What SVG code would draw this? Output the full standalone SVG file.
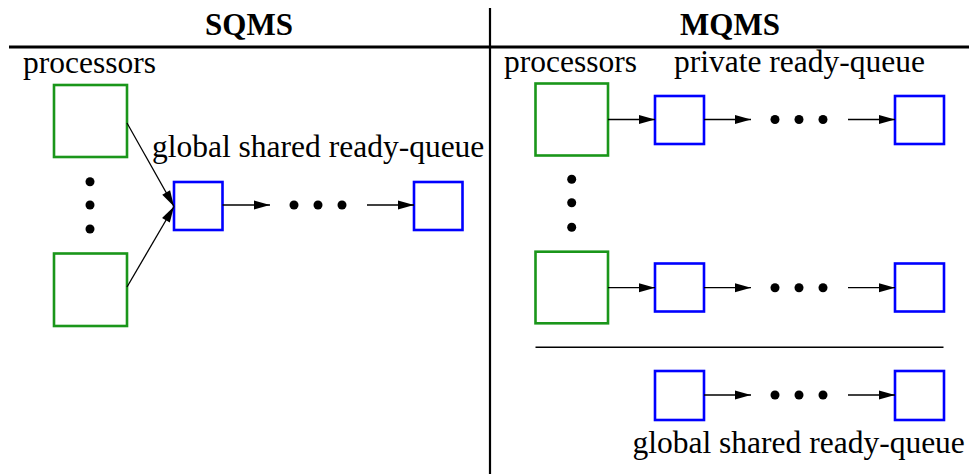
<svg xmlns="http://www.w3.org/2000/svg" width="969" height="474" viewBox="0 0 969 474">
  <style>
    .title { font-family: "Liberation Serif", "Times New Roman", serif; font-weight: bold; font-size: 31px; text-anchor: middle; fill: #000; }
    .label { font-family: "Liberation Serif", "Times New Roman", serif; font-size: 31.5px; fill: #000; }
    .proc { fill: none; stroke: #1a961a; stroke-width: 2.6; }
    .queue { fill: none; stroke: #0000ff; stroke-width: 2.6; }
    .rule { stroke: #000; fill: none; }
    .edge { stroke: #000; stroke-width: 1.3; fill: none; marker-end: url(#arrow); }
    .dot { fill: #000; }
  </style>
  <defs>
    <marker id="arrow" markerUnits="userSpaceOnUse" markerWidth="16" markerHeight="9" refX="16" refY="4.5" orient="auto" overflow="visible">
      <path d="M0,0 L16,4.5 L0,9 z" fill="#000"/>
    </marker>
  </defs>
  <rect width="969" height="474" fill="#fff"/>

  <!-- table frame -->
  <g id="frame">
    <line class="rule" x1="9" y1="47" x2="969" y2="47" stroke-width="3"/>
    <line class="rule" x1="490" y1="8" x2="490" y2="474" stroke-width="2.2"/>
    <line class="rule" x1="535.5" y1="347.3" x2="943.5" y2="347.3" stroke-width="1.4"/>
    <text class="title" x="249" y="35">SQMS</text>
    <text class="title" x="730" y="35">MQMS</text>
  </g>

  <!-- SQMS side -->
  <g id="sqms-labels">
    <text class="label" x="23" y="73">processors</text>
    <text class="label" x="152" y="157">global shared ready-queue</text>
  </g>
  <g id="sqms-cpu1"><rect class="proc" x="54" y="85" width="73" height="72"/></g>
  <g id="sqms-cpu2"><rect class="proc" x="54" y="253.5" width="73" height="72.5"/></g>
  <g id="sqms-cpu-dots">
    <circle class="dot" cx="90" cy="181.7" r="4.5"/>
    <circle class="dot" cx="90" cy="205" r="4.5"/>
    <circle class="dot" cx="90" cy="229" r="4.5"/>
  </g>
  <g id="sqms-q1"><rect class="queue" x="174" y="182" width="48.5" height="48"/></g>
  <g id="sqms-qdots">
    <circle class="dot" cx="294" cy="205" r="4.5"/>
    <circle class="dot" cx="318" cy="205" r="4.5"/>
    <circle class="dot" cx="342" cy="205" r="4.5"/>
  </g>
  <g id="sqms-qn"><rect class="queue" x="414" y="182" width="48.5" height="48"/></g>

  <!-- MQMS side -->
  <g id="mqms-labels">
    <text class="label" x="504" y="72">processors</text>
    <text class="label" x="674" y="72">private ready-queue</text>
    <text class="label" x="632.5" y="453">global shared ready-queue</text>
  </g>
  <g id="mqms-cpu1"><rect class="proc" x="535.5" y="83.5" width="72.5" height="72"/></g>
  <g id="mqms-cpu2"><rect class="proc" x="535.5" y="251.7" width="72.5" height="71.6"/></g>
  <g id="mqms-cpu-dots">
    <circle class="dot" cx="571.7" cy="179.3" r="4.5"/>
    <circle class="dot" cx="571.7" cy="202.7" r="4.5"/>
    <circle class="dot" cx="571.7" cy="227.3" r="4.5"/>
  </g>
  <g id="mqms-p1-q1"><rect class="queue" x="655" y="96" width="49" height="48"/></g>
  <g id="mqms-p1-qn"><rect class="queue" x="895" y="96" width="49" height="48"/></g>
  <g id="mqms-p1-dots">
    <circle class="dot" cx="775" cy="119.5" r="4.5"/>
    <circle class="dot" cx="799" cy="119.5" r="4.5"/>
    <circle class="dot" cx="823" cy="119.5" r="4.5"/>
  </g>
  <g id="mqms-p2-q1"><rect class="queue" x="655" y="263.5" width="49" height="48"/></g>
  <g id="mqms-p2-qn"><rect class="queue" x="895" y="263.5" width="49" height="48"/></g>
  <g id="mqms-p2-dots">
    <circle class="dot" cx="775" cy="287.7" r="4.5"/>
    <circle class="dot" cx="799" cy="287.7" r="4.5"/>
    <circle class="dot" cx="823" cy="287.7" r="4.5"/>
  </g>
  <g id="mqms-g-q1"><rect class="queue" x="655" y="371" width="49" height="49"/></g>
  <g id="mqms-g-qn"><rect class="queue" x="895" y="371" width="49" height="49"/></g>
  <g id="mqms-g-dots">
    <circle class="dot" cx="775" cy="395" r="4.5"/>
    <circle class="dot" cx="799" cy="395" r="4.5"/>
    <circle class="dot" cx="823" cy="395" r="4.5"/>
  </g>

  <!-- connectors -->
  <g id="connectors">
    <line class="edge" x1="127" y1="123" x2="174" y2="206.5"/>
    <line class="edge" x1="127" y1="287" x2="174" y2="206.5"/>
    <line class="edge" x1="222.5" y1="205" x2="270" y2="205"/>
    <line class="edge" x1="367" y1="205" x2="414" y2="205"/>

    <line class="edge" x1="608" y1="119.5" x2="655" y2="119.5"/>
    <line class="edge" x1="704" y1="119.5" x2="751" y2="119.5"/>
    <line class="edge" x1="848" y1="119.5" x2="895" y2="119.5"/>

    <line class="edge" x1="608" y1="287.7" x2="655" y2="287.7"/>
    <line class="edge" x1="704" y1="287.7" x2="751" y2="287.7"/>
    <line class="edge" x1="848" y1="287.7" x2="895" y2="287.7"/>

    <line class="edge" x1="704" y1="395" x2="751" y2="395"/>
    <line class="edge" x1="848" y1="395" x2="895" y2="395"/>
  </g>
</svg>
